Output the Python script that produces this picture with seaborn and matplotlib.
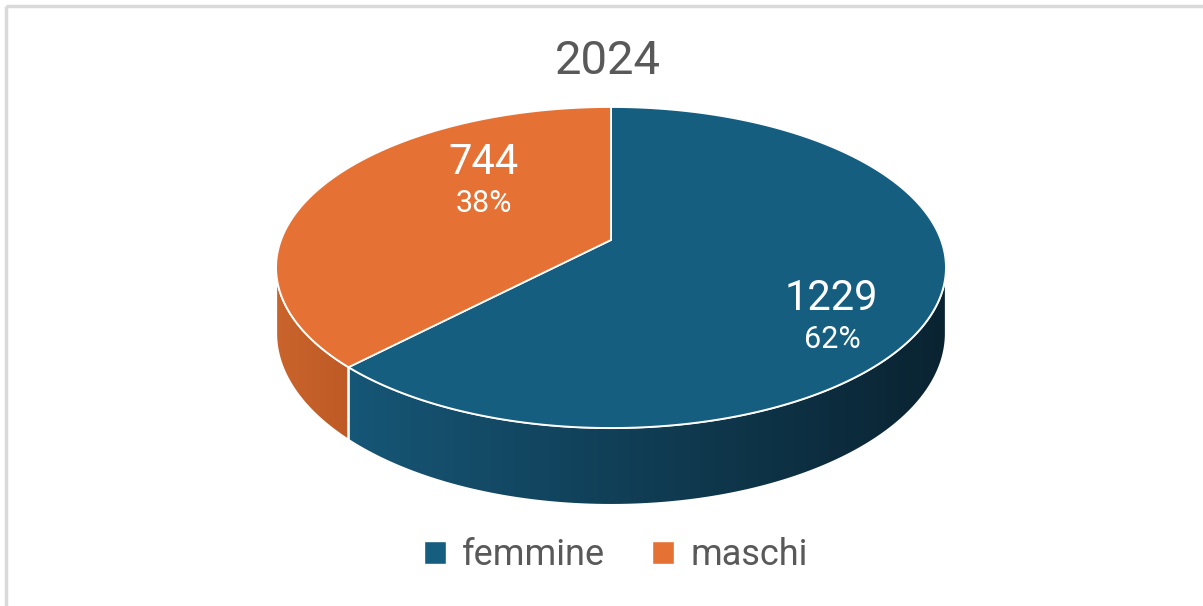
import numpy as np
import matplotlib

matplotlib.use("Agg")

import matplotlib.pyplot as plt
import seaborn as sns
from matplotlib.colors import LinearSegmentedColormap
from matplotlib.patches import Patch, Polygon

# dati
title = "2024"
categories = ["femmine", "maschi"]
counts = [1229, 744]
top_colors = ["#165E80", "#E57234"]
side_colors = [("#165676", "#0A2331"), ("#C9642C", "#BE5A25")]

# geometria della torta 3D (coordinate in pixel, con prospettiva)
CX, CY = 611.0, 240.0
D = 5.837
S = 1926.0
H = 909.3
DROP = 372.5


def project(t, r=1.0, drop=0.0):
    """Proietta un punto del disco (angolo orario dall'alto, in radianti)."""
    u = r * np.sin(t)
    v = -r * np.cos(t)
    den = D - v
    return CX + S * u / den, CY + (H * v + drop) / den


sns.set_theme(style="white")
plt.rcParams["font.family"] = ["Roboto", "DejaVu Sans"]

fig = plt.figure(figsize=(12.03, 6.06), dpi=100)
ax = fig.add_axes([0, 0, 1, 1])
ax.axis("off")

total = sum(counts)
fractions = np.array(counts) / total
edges = np.concatenate([[0.0], np.cumsum(fractions)]) * 2 * np.pi

# parte laterale visibile
t_right = np.arccos(-1.0 / D)
t_left = 2 * np.pi - t_right

for i, cat in enumerate(categories):
    a0, a1 = edges[i], edges[i + 1]
    s0, s1 = max(a0, t_right), min(a1, t_left)
    if s1 <= s0:
        continue
    ts = np.linspace(s0, s1, 200)
    xt, yt = project(ts)
    xb, yb = project(ts[::-1], drop=DROP)
    pts = np.column_stack([np.concatenate([xt, xb]), np.concatenate([yt, yb])])
    cmap = LinearSegmentedColormap.from_list(f"side{i}", list(side_colors[i]))
    grad = np.linspace(0, 1, 256).reshape(1, -1)
    im = ax.imshow(
        grad,
        cmap=cmap,
        extent=[pts[:, 0].min(), pts[:, 0].max(), pts[:, 1].max(), pts[:, 1].min()],
        aspect="auto",
        interpolation="bilinear",
        zorder=1,
    )
    side = Polygon(pts, closed=True, facecolor="none", edgecolor="white", linewidth=1.5, zorder=2)
    ax.add_patch(side)
    im.set_clip_path(side)

# faccia superiore
for i, cat in enumerate(categories):
    ts = np.linspace(edges[i], edges[i + 1], 300)
    xs, ys = project(ts)
    pts = np.column_stack([np.concatenate([[CX], xs]), np.concatenate([[CY], ys])])
    ax.add_patch(Polygon(pts, closed=True, facecolor=top_colors[i], edgecolor="white",
                         linewidth=1.3, zorder=3))

# etichette
label_pos = [(831, 298), (483, 162)]
for i, (x, y) in enumerate(label_pos):
    ax.text(x, y, f"{counts[i]}", color="white", fontsize=30, ha="center", va="center", zorder=5)
    ax.text(x + 1, y + 42, f"{round(100 * counts[i] / total)}%", color="white", fontsize=22,
            ha="center", va="center", zorder=5)

ax.text(608, 61, title, color="#595959", fontsize=34, ha="center", va="center")

# cornice
ax.plot([5.5, 1203], [5.5, 5.5], color="#d9d9d9", linewidth=2.5, solid_capstyle="butt")
ax.plot([5.5, 5.5], [5.5, 606], color="#d9d9d9", linewidth=2.5, solid_capstyle="butt")

handles = [Patch(facecolor=top_colors[i], label=cat) for i, cat in enumerate(categories)]
fig.legend(
    handles=handles,
    loc="center",
    bbox_to_anchor=(616 / 1203, 1 - 555 / 606),
    ncol=2,
    frameon=False,
    fontsize=26,
    handlelength=0.6,
    handleheight=0.6,
    handletextpad=0.45,
    columnspacing=1.3,
    labelcolor="#595959",
)

ax.set_xlim(0, 1203)
ax.set_ylim(606, 0)
fig.savefig("out.png", dpi=100)
plt.close(fig)
